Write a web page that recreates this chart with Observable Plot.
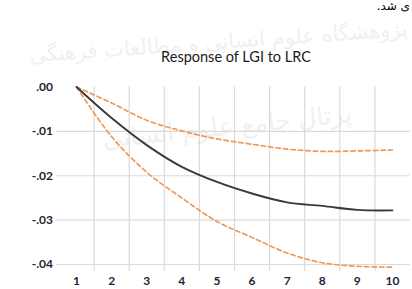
<!DOCTYPE html>
<html><head><meta charset="utf-8">
<script src="https://cdn.jsdelivr.net/npm/d3@7"></script>
<script src="https://cdn.jsdelivr.net/npm/@observablehq/plot@0.6"></script>
<style>
html,body{margin:0;padding:0;background:#fff;width:412px;height:289px;overflow:hidden;}
#wrap{position:relative;width:412px;height:289px;overflow:hidden;}
.wm{position:absolute;white-space:nowrap;font-family:"DejaVu Sans";color:#f0f0f0;direction:rtl;}
#title{position:absolute;left:0;width:472px;top:48px;text-align:center;font-family:Lato,"Open Sans",sans-serif;font-size:14.5px;color:#1a1a1a;}
#toptext{position:absolute;right:2px;top:0px;font-family:"DejaVu Sans";font-size:12px;line-height:13px;color:#000;direction:rtl;white-space:nowrap;}
#chart{position:absolute;left:0;top:0;}
</style></head>
<body><div id="wrap">
<div class="wm" style="right:4px;top:30px;font-size:21px;transform:rotate(-4deg);">پژوهشگاه علوم انسانی و مطالعات فرهنگی</div>
<div class="wm" style="right:60px;top:112px;font-size:25px;transform:rotate(-6deg);">پرتال جامع علوم انسانی</div>
<div id="toptext">ی شد.</div>
<div id="title">Response of LGI to LRC</div>
<div id="chart"></div>
</div>
<script>
const categories = [1, 2, 3, 4, 5, 6, 7, 8, 9, 10];
const response   = [0, -0.0070, -0.0131, -0.0180, -0.0214, -0.0240, -0.0260, -0.0268, -0.0277, -0.0278];
const upperBand  = [0, -0.0036, -0.0075, -0.0099, -0.0117, -0.0129, -0.0140, -0.0145, -0.0144, -0.0142];
const lowerBand  = [0, -0.0112, -0.0192, -0.0250, -0.0303, -0.0339, -0.0374, -0.0396, -0.0404, -0.0406];
const yTicks      = [0, -0.01, -0.02, -0.03, -0.04];
const yTickLabels = [".00", "-.01", "-.02", "-.03", "-.04"];

const rows = categories.map((c, i) => ({cat: c, resp: response[i], up: upperBand[i], lo: lowerBand[i]}));
const boundaries = categories.slice(0, -1).map(c => c + 0.5);

const chart = Plot.plot({
  width: 412, height: 289,
  marginTop: 86.5, marginBottom: 25, marginLeft: 58.5, marginRight: 2.5,
  x: {domain: [0.5, 10.5], label: null},
  y: {domain: [-0.04, 0], label: null},
  style: {fontFamily: "Lato, 'Open Sans', sans-serif", fontSize: "12px", color: "#222", background: "transparent", overflow: "visible"},
  marks: [
    Plot.ruleY(yTicks.filter(d => d !== 0), {stroke: "#dadada", strokeWidth: 1.2, insetLeft: -2}),
    Plot.ruleX(boundaries, {y1: 0, y2: -0.04, insetBottom: -7, stroke: "#dadada", strokeWidth: 1.2}),
    Plot.line(rows, {x: "cat", y: "up", stroke: "#ee9a5c", strokeWidth: 1.7, strokeDasharray: "4.5,3", curve: "catmull-rom"}),
    Plot.line(rows, {x: "cat", y: "lo", stroke: "#ee9a5c", strokeWidth: 1.7, strokeDasharray: "4.5,3", curve: "catmull-rom"}),
    Plot.line(rows, {x: "cat", y: "resp", stroke: "#3a3a3a", strokeWidth: 1.9, curve: "catmull-rom"}),
    Plot.axisY({ticks: yTicks, tickFormat: d => yTickLabels[yTicks.indexOf(d)], tickSize: 0, tickPadding: 6, fontWeight: "bold", fill: "#1f2433"}),
    Plot.axisX({ticks: categories, tickFormat: d => String(d), tickSize: 0, tickPadding: 12, fontWeight: "bold", fill: "#1f2433"})
  ]
});
document.getElementById("chart").appendChild(chart);
</script>
</body></html>
